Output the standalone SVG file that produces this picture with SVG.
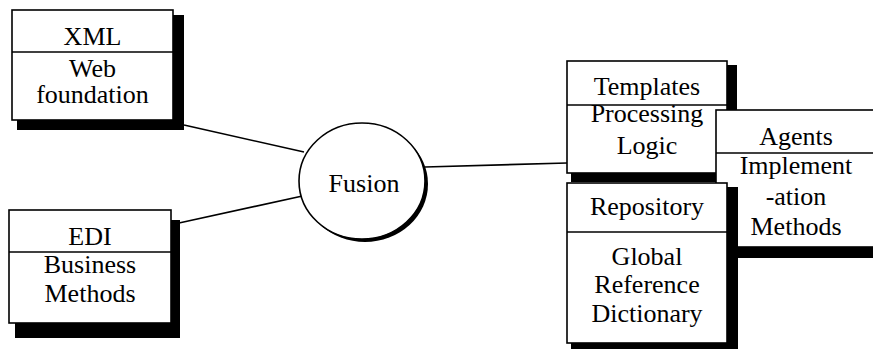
<svg xmlns="http://www.w3.org/2000/svg" width="873" height="349" viewBox="0 0 873 349">
  <style>
    .box { fill: #fff; stroke: #000; stroke-width: 1.6; }
    .shadow { fill: #000; stroke: none; }
    .div { stroke: #000; stroke-width: 1.6; }
    .edge { stroke: #000; stroke-width: 1.6; fill: none; }
    .t { font-family: 'Liberation Serif', 'DejaVu Serif', serif; font-size: 26px; fill: #000; text-anchor: middle; }
  </style>
  <rect width="873" height="349" fill="#fff"/>

  <g id="connectors">
    <line class="edge" x1="184" y1="125" x2="304" y2="152"/>
    <line class="edge" x1="179" y1="223" x2="307" y2="195"/>
    <line class="edge" x1="425" y1="167" x2="567" y2="163"/>
  </g>

  <g id="xml">
    <rect class="shadow" x="17" y="15" width="167" height="115"/>
    <rect class="box" x="12" y="10" width="161" height="110"/>
    <line class="div" x1="12" y1="52" x2="173" y2="52"/>
    <text class="t" font-family="Liberation Serif, serif" x="92.5" y="45">XML</text>
    <text class="t" font-family="Liberation Serif, serif" x="92.5" y="77">Web</text>
    <text class="t" font-family="Liberation Serif, serif" x="92.5" y="103">foundation</text>
  </g>

  <g id="edi">
    <rect class="shadow" x="15" y="220" width="165" height="118"/>
    <rect class="box" x="9" y="210" width="162" height="113"/>
    <line class="div" x1="9" y1="252" x2="171" y2="252"/>
    <text class="t" font-family="Liberation Serif, serif" x="90" y="245">EDI</text>
    <text class="t" font-family="Liberation Serif, serif" x="90" y="273">Business</text>
    <text class="t" font-family="Liberation Serif, serif" x="90" y="302">Methods</text>
  </g>

  <g id="fusion">
    <ellipse class="shadow" cx="365" cy="184" rx="63" ry="58"/>
    <ellipse class="box" cx="362" cy="181" rx="63" ry="58"/>
    <text class="t" font-family="Liberation Serif, serif" x="364" y="192">Fusion</text>
  </g>

  <g id="templates">
    <rect class="shadow" x="571" y="65" width="166" height="117"/>
    <rect class="box" x="567" y="61" width="160" height="112"/>
    <line class="div" x1="567" y1="105" x2="727" y2="105"/>
    <text class="t" font-family="Liberation Serif, serif" x="647" y="95">Templates</text>
    <text class="t" font-family="Liberation Serif, serif" x="647" y="122">Processing</text>
    <text class="t" font-family="Liberation Serif, serif" x="647" y="154">Logic</text>
  </g>

  <g id="agents">
    <rect class="shadow" x="722" y="116" width="166" height="142"/>
    <rect class="box" x="716" y="110" width="160" height="137"/>
    <line class="div" x1="716" y1="153" x2="876" y2="153"/>
    <text class="t" font-family="Liberation Serif, serif" x="796" y="145">Agents</text>
    <text class="t" font-family="Liberation Serif, serif" x="796" y="174">Implement</text>
    <text class="t" font-family="Liberation Serif, serif" x="796" y="205">-ation</text>
    <text class="t" font-family="Liberation Serif, serif" x="796" y="235">Methods</text>
  </g>

  <g id="repository">
    <rect class="shadow" x="571" y="187" width="167" height="166"/>
    <rect class="box" x="567" y="183" width="160" height="160"/>
    <line class="div" x1="567" y1="232" x2="727" y2="232"/>
    <text class="t" font-family="Liberation Serif, serif" x="647" y="215">Repository</text>
    <text class="t" font-family="Liberation Serif, serif" x="647" y="265">Global</text>
    <text class="t" font-family="Liberation Serif, serif" x="647" y="293">Reference</text>
    <text class="t" font-family="Liberation Serif, serif" x="647" y="322">Dictionary</text>
  </g>
</svg>
